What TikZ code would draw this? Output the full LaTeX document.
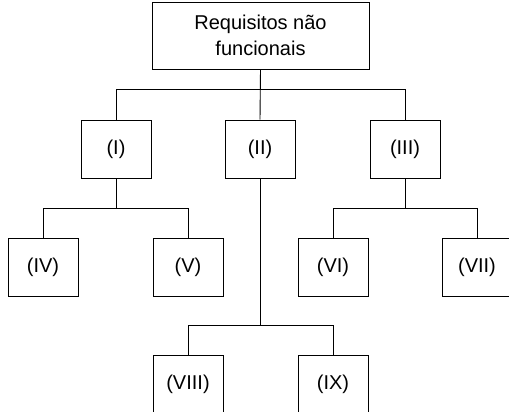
\documentclass[tikz,border=0pt]{standalone}
\usepackage{fontspec}
\setmainfont{Liberation Sans}
\usetikzlibrary{positioning}

\begin{document}
\begin{tikzpicture}[
            x = 1pt, y = -1pt, % pixel units, y going down
            line width = 0.9pt, % line style
            font = \fontsize{20}{26}\selectfont
        ]

        \tikzstyle{box}=[
            draw = black,
            fill = white,
            inner sep = 0pt,
            minimum width = 70pt,
            minimum height = 58pt
        ]

        \useasboundingbox (0,0) rectangle (509,412);
        \clip (0,0) rectangle (509,412);

        \node[box, minimum width = 217pt, minimum height = 67pt, align = center] (top) [at={(260.5,35.5)}] {Requisitos não\\funcionais};
        \node[box] (i) [at={(116,149)}] {(I)};
        \node[box] (ii) [at={(260,149)}] {(II)};
        \node[box] (iii) [at={(405,149)}] {(III)};
        \node[box] (iv) [at={(43,267.5)}] {(IV)};
        \node[box] (v) [at={(188,267.5)}] {(V)};
        \node[box] (vi) [at={(333,267.5)}] {(VI)};
        \node[box] (vii) [at={(477,267.5)}] {(VII)};
        \node[box] (viii) [at={(188,384)}] {(VIII)};
        \node[box] (ix) [at={(333,384)}] {(IX)};

        % Links
        \draw (i.north) -- ++(0,-30) -| (iii.north);
        \draw (top.south) -- (ii.north);
        \draw (iv.north) -- ++(0,-30) -| (v.north);
        \draw (i.south) -- ++(0,30);
        \draw (vi.north) -- ++(0,-30) -| (vii.north);
        \draw (iii.south) -- ++(0,30);
        \draw (viii.north) -- ++(0,-29) -| (ix.north);
        \draw (ii.south) -- ++(0,148);

\end{tikzpicture}
\end{document}
